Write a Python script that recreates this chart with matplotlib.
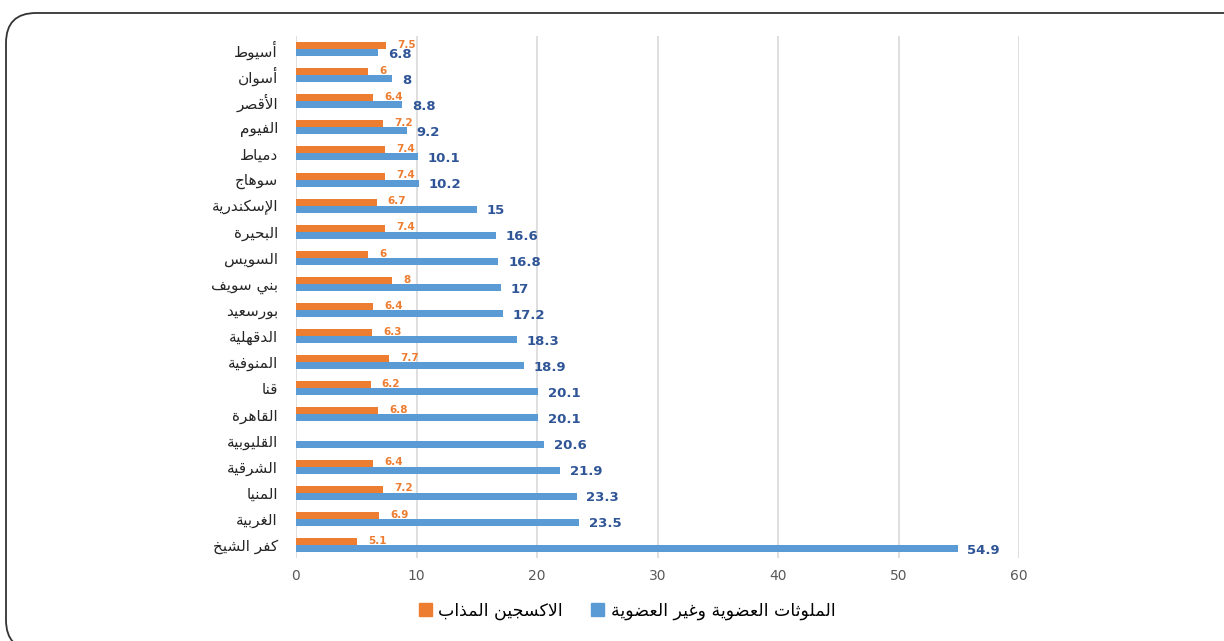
import matplotlib
matplotlib.use("Agg")
import matplotlib.pyplot as plt
from matplotlib.patches import FancyBboxPatch, Patch
from matplotlib.transforms import IdentityTransform

# --- data (top to bottom as in the chart) ---
governorates = ["أسيوط", "أسوان", "الأقصر", "الفيوم", "دمياط", "سوهاج", "الإسكندرية",
                "البحيرة", "السويس", "بني سويف", "بورسعيد", "الدقهلية", "المنوفية",
                "قنا", "القاهرة", "القليوبية", "الشرقية", "المنيا", "الغربية", "كفر الشيخ"]
pollutants = [6.8, 8, 8.8, 9.2, 10.1, 10.2, 15, 16.6, 16.8, 17, 17.2, 18.3, 18.9,
              20.1, 20.1, 20.6, 21.9, 23.3, 23.5, 54.9]
oxygen = [7.5, 6, 6.4, 7.2, 7.4, 7.4, 6.7, 7.4, 6, 8, 6.4, 6.3, 7.7,
          6.2, 6.8, None, 6.4, 7.2, 6.9, 5.1]
xticks = [0, 10, 20, 30, 40, 50, 60]
label_pollutants = "الملوثات العضوية وغير العضوية"
label_oxygen = "الاكسجين المذاب"

BLUE = "#5B9BD5"
ORANGE = "#ED7D31"

# --- minimal arabic shaping (matplotlib has no complex text layout) ---
# isolated, final, initial, medial
FORMS = {
    "ا": (0xFE8D, 0xFE8E), "أ": (0xFE83, 0xFE84), "إ": (0xFE87, 0xFE88),
    "آ": (0xFE81, 0xFE82), "ب": (0xFE8F, 0xFE90, 0xFE91, 0xFE92),
    "ة": (0xFE93, 0xFE94), "ت": (0xFE95, 0xFE96, 0xFE97, 0xFE98),
    "ث": (0xFE99, 0xFE9A, 0xFE9B, 0xFE9C), "ج": (0xFE9D, 0xFE9E, 0xFE9F, 0xFEA0),
    "ح": (0xFEA1, 0xFEA2, 0xFEA3, 0xFEA4), "خ": (0xFEA5, 0xFEA6, 0xFEA7, 0xFEA8),
    "د": (0xFEA9, 0xFEAA), "ذ": (0xFEAB, 0xFEAC), "ر": (0xFEAD, 0xFEAE),
    "ز": (0xFEAF, 0xFEB0), "س": (0xFEB1, 0xFEB2, 0xFEB3, 0xFEB4),
    "ش": (0xFEB5, 0xFEB6, 0xFEB7, 0xFEB8), "ص": (0xFEB9, 0xFEBA, 0xFEBB, 0xFEBC),
    "ض": (0xFEBD, 0xFEBE, 0xFEBF, 0xFEC0), "ط": (0xFEC1, 0xFEC2, 0xFEC3, 0xFEC4),
    "ظ": (0xFEC5, 0xFEC6, 0xFEC7, 0xFEC8), "ع": (0xFEC9, 0xFECA, 0xFECB, 0xFECC),
    "غ": (0xFECD, 0xFECE, 0xFECF, 0xFED0), "ف": (0xFED1, 0xFED2, 0xFED3, 0xFED4),
    "ق": (0xFED5, 0xFED6, 0xFED7, 0xFED8), "ك": (0xFED9, 0xFEDA, 0xFEDB, 0xFEDC),
    "ل": (0xFEDD, 0xFEDE, 0xFEDF, 0xFEE0), "م": (0xFEE1, 0xFEE2, 0xFEE3, 0xFEE4),
    "ن": (0xFEE5, 0xFEE6, 0xFEE7, 0xFEE8), "ه": (0xFEE9, 0xFEEA, 0xFEEB, 0xFEEC),
    "و": (0xFEED, 0xFEEE), "ؤ": (0xFE85, 0xFE86), "ى": (0xFEEF, 0xFEF0),
    "ي": (0xFEF1, 0xFEF2, 0xFEF3, 0xFEF4),
}
LAM_ALEF = {"ا": (0xFEFB, 0xFEFC), "أ": (0xFEF7, 0xFEF8),
            "إ": (0xFEF9, 0xFEFA), "آ": (0xFEF5, 0xFEF6)}


def shape(text):
    # merge lam-alef into ligature tokens
    tokens = []
    i = 0
    while i < len(text):
        c = text[i]
        if c == "ل" and i + 1 < len(text) and text[i + 1] in LAM_ALEF:
            tokens.append(("LA", LAM_ALEF[text[i + 1]]))
            i += 2
        else:
            tokens.append((c, FORMS.get(c)))
            i += 1
    out = []
    for k, (c, forms) in enumerate(tokens):
        if forms is None:
            out.append(c)
            continue
        prev = tokens[k - 1][1] if k > 0 else None
        nxt = tokens[k + 1][1] if k + 1 < len(tokens) else None
        join_prev = prev is not None and len(prev) == 4 and tokens[k - 1][0] != "LA"
        join_next = len(forms) == 4 and nxt is not None
        if join_prev and join_next:
            code = forms[3]
        elif join_prev:
            code = forms[1]
        elif join_next:
            code = forms[2]
        else:
            code = forms[0]
        out.append(chr(code))
    return "".join(reversed(out))


plt.rcParams["font.family"] = ["DejaVu Sans"]

fig = plt.figure(figsize=(12.24, 6.41), dpi=100)
ax = fig.add_axes([296 / 1224, 1 - 558 / 641, 723 / 1224, 522 / 641])

n = len(governorates)
pos = list(range(n))
h = 0.27
ox_pos = [p - h / 2 for p, v in zip(pos, oxygen) if v is not None]
ox_val = [v for v in oxygen if v is not None]

ax.barh([p + h / 2 for p in pos], pollutants, height=h, color=BLUE, zorder=3)
ax.barh(ox_pos, ox_val, height=h, color=ORANGE, zorder=3)

for p, v in zip(pos, pollutants):
    ax.annotate(f"{v:g}", xy=(v, p + h / 2 + 0.06), xytext=(7, 0),
                textcoords="offset points", va="center", ha="left",
                fontsize=9.5, fontweight="bold", color="#2F5597")
for p, v in zip(ox_pos, ox_val):
    ax.annotate(f"{v:g}", xy=(v, p - 0.03), xytext=(8, 0),
                textcoords="offset points", va="center", ha="left",
                fontsize=7.5, fontweight="bold", color=ORANGE)

ax.set_xlim(0, 60)
ax.set_ylim(n - 0.5, -0.5)
ax.set_xticks(xticks)
ax.set_yticks(pos)
ax.set_yticklabels([shape(g) for g in governorates], fontsize=11, color="#262626")
ax.tick_params(axis="x", colors="#595959", labelsize=10, length=0, pad=8)
ax.tick_params(axis="y", length=0, pad=13)
ax.grid(axis="x", color="#D9D9D9", linewidth=1.2, zorder=0)
for s in ax.spines.values():
    s.set_visible(False)

handles = [Patch(color=ORANGE, label=shape(label_oxygen)),
           Patch(color=BLUE, label=shape(label_pollutants))]
fig.legend(handles=handles, loc="center", ncol=2, frameon=False,
           bbox_to_anchor=(627 / 1224, 1 - 611 / 641), fontsize=12.5,
           handlelength=0.75, handleheight=0.75, handletextpad=0.4, columnspacing=1.6)

frame = FancyBboxPatch((6, -9), 1250, 637, boxstyle="round,pad=0,rounding_size=30",
                       transform=IdentityTransform(), facecolor="none",
                       edgecolor="#333333", linewidth=1.3)
fig.patches.append(frame)
frame.set_figure(fig)

fig.savefig("out.png", dpi=100)
